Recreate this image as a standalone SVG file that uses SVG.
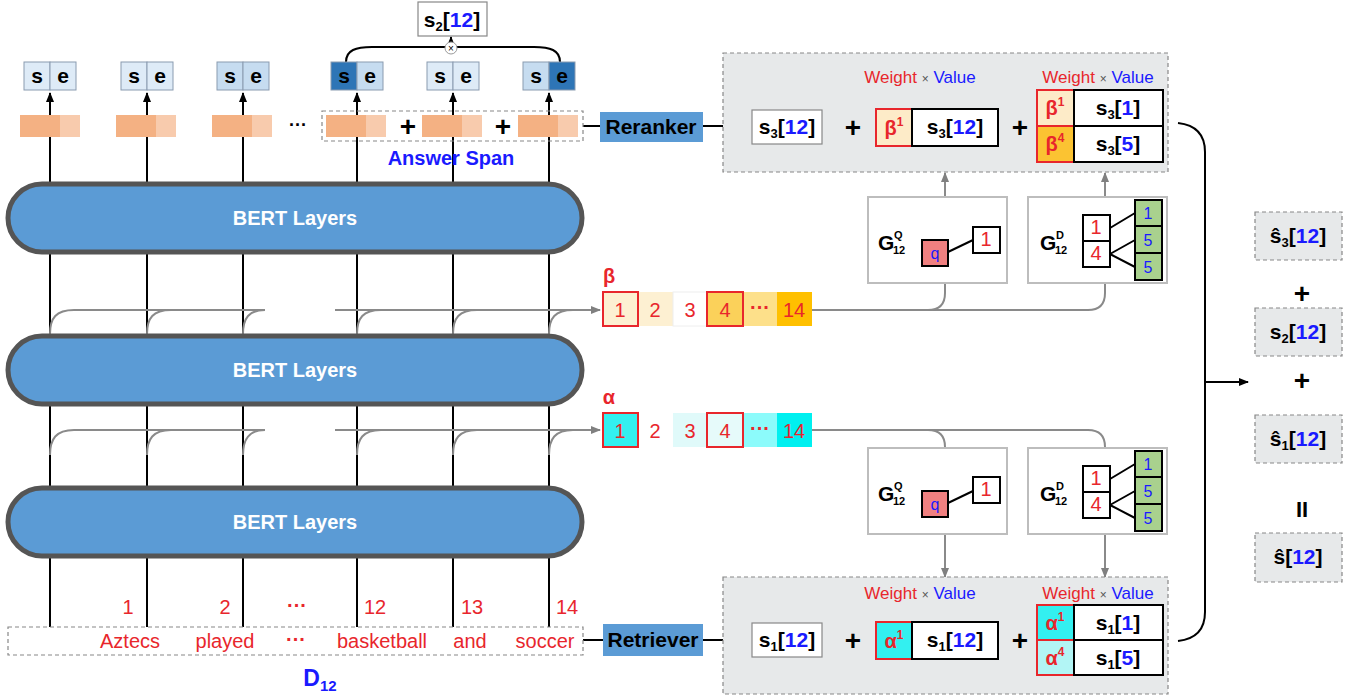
<svg xmlns="http://www.w3.org/2000/svg" width="1364" height="700" viewBox="0 0 1364 700">
<defs>
<marker id="ab" markerWidth="10" markerHeight="10" refX="9" refY="5" orient="auto" markerUnits="userSpaceOnUse"><path d="M0,1 L10,5 L0,9 z" fill="#000"/></marker>
<marker id="ag" markerWidth="10" markerHeight="10" refX="9" refY="5" orient="auto" markerUnits="userSpaceOnUse"><path d="M0,1 L10,5 L0,9 z" fill="#808080"/></marker>
</defs>
<style>
text{font-family:"Liberation Sans",Arial,sans-serif}
.k{stroke:#000;stroke-width:2;fill:none}
.g{stroke:#8a8a8a;stroke-width:2;fill:none}
.bert{fill:#5b9bd5;stroke:#555;stroke-width:5}
.bt{fill:#fff;font-size:20px;font-weight:bold;text-anchor:middle}
.se{stroke:#8a9bb0;stroke-width:1}
.set{font-size:21px;font-weight:bold;text-anchor:middle}
.o1{fill:#f4b183}
.o2{fill:#f8cbad}
.dash{fill:none;stroke:#888;stroke-width:1.2;stroke-dasharray:4 3}
.gbox{fill:#e7e9ea;stroke:#888;stroke-width:1.2;stroke-dasharray:4 3}
.wb{fill:#fff;stroke:#000;stroke-width:2}
.wb1{fill:#fff;stroke:#888;stroke-width:1.2}
.st{font-size:21px;font-weight:bold;text-anchor:middle}
.blue{fill:#1a1aff}
.red{fill:#e8262c}
.num{font-size:20px;text-anchor:middle;fill:#e8262c}
.wv{font-size:17px;text-anchor:middle}
.pl{font-size:28px;font-weight:bold;text-anchor:middle}
.gb{fill:#fff;stroke:#bdbdbd;stroke-width:2}
.rb{stroke:#e8262c;stroke-width:2}
.blk{fill:none;stroke:#000;stroke-width:2}
.gr{fill:#a9d18e;stroke:#000;stroke-width:2}
.lbl{font-size:21px;font-weight:bold;text-anchor:middle;fill:#000}
</style>

<g id="connectors">
<path class="k" d="M50,627 V93" marker-end="url(#ab)"/>
<path class="k" d="M147,627 V93" marker-end="url(#ab)"/>
<path class="k" d="M243,627 V93" marker-end="url(#ab)"/>
<path class="k" d="M357,627 V93" marker-end="url(#ab)"/>
<path class="k" d="M453,627 V93" marker-end="url(#ab)"/>
<path class="k" d="M549,627 V93" marker-end="url(#ab)"/>
<path class="g" d="M50,334 C50,318 56,310 74,310 H265"/>
<path class="g" d="M147,334 C147,318 153,310 171,310"/>
<path class="g" d="M243,334 C243,318 249,310 265,310"/>
<path class="g" d="M335,310 H600" marker-end="url(#ag)"/>
<path class="g" d="M357,334 C357,318 363,310 381,310"/>
<path class="g" d="M453,334 C453,318 459,310 477,310"/>
<path class="g" d="M549,334 C549,318 555,310 573,310"/>
<path class="g" d="M50,455 C50,439 56,430 74,430 H265"/>
<path class="g" d="M147,455 C147,439 153,430 171,430"/>
<path class="g" d="M243,455 C243,439 249,430 265,430"/>
<path class="g" d="M335,430 H600" marker-end="url(#ag)"/>
<path class="g" d="M357,455 C357,439 363,430 381,430"/>
<path class="g" d="M453,455 C453,439 459,430 477,430"/>
<path class="g" d="M549,455 C549,439 555,430 573,430"/>
<path class="g" d="M812,310 H1088 Q1105,310 1105,293 V284"/>
<path class="g" d="M928,310 Q945,310 945,293 V284"/>
<path class="g" d="M945,197 V173" marker-end="url(#ag)"/>
<path class="g" d="M1105,197 V173" marker-end="url(#ag)"/>
<path class="g" d="M812,430 H1088 Q1105,430 1105,447 V449"/>
<path class="g" d="M928,430 Q945,430 945,447 V449"/>
<path class="g" d="M945,534 V577" marker-end="url(#ag)"/>
<path class="g" d="M1105,534 V577" marker-end="url(#ag)"/>
<path class="k" d="M583,126 H600"/>
<path class="k" d="M703,126 H751" marker-end="url(#ab)"/>
<path class="k" d="M583,640 H603"/>
<path class="k" d="M703,640 H751" marker-end="url(#ab)"/>
<path class="k" d="M346,62 C346,50 356,47 372,47 H534 C550,47 560,50 560,62"/>
<path class="k" d="M451,42 V37" marker-end="url(#ab)"/>
<path class="k" d="M1178,123 Q1205,126 1205,152 V612 Q1205,638 1178,641"/>
<path class="k" d="M1205,382 H1248" marker-end="url(#ab)"/>
</g>

<g id="bert1"><rect class="bert" x="8" y="184" width="574" height="68" rx="34"/><text class="bt" x="295" y="225">BERT Layers</text></g>
<g id="bert2"><rect class="bert" x="8" y="336" width="574" height="68" rx="34"/><text class="bt" x="295" y="377">BERT Layers</text></g>
<g id="bert3"><rect class="bert" x="8" y="488" width="574" height="68" rx="34"/><text class="bt" x="295" y="529">BERT Layers</text></g>

<g id="se-boxes">
<rect class="se" x="24" y="62" width="26" height="28" fill="#deebf7"/><rect class="se" x="50" y="62" width="26" height="28" fill="#deebf7"/>
<text class="set" x="37" y="83">s</text><text class="set" x="63" y="83">e</text>
<rect class="se" x="121" y="62" width="26" height="28" fill="#deebf7"/><rect class="se" x="147" y="62" width="26" height="28" fill="#deebf7"/>
<text class="set" x="134" y="83">s</text><text class="set" x="160" y="83">e</text>
<rect class="se" x="217" y="62" width="26" height="28" fill="#c6dcf0"/><rect class="se" x="243" y="62" width="26" height="28" fill="#c6dcf0"/>
<text class="set" x="230" y="83">s</text><text class="set" x="256" y="83">e</text>
<rect class="se" x="331" y="62" width="26" height="28" fill="#2e75b6"/><rect class="se" x="357" y="62" width="26" height="28" fill="#c6dcf0"/>
<text class="set" x="344" y="83">s</text><text class="set" x="370" y="83">e</text>
<rect class="se" x="427" y="62" width="26" height="28" fill="#deebf7"/><rect class="se" x="453" y="62" width="26" height="28" fill="#deebf7"/>
<text class="set" x="440" y="83">s</text><text class="set" x="466" y="83">e</text>
<rect class="se" x="523" y="62" width="26" height="28" fill="#c6dcf0"/><rect class="se" x="549" y="62" width="26" height="28" fill="#2e75b6"/>
<text class="set" x="536" y="83">s</text><text class="set" x="562" y="83">e</text>
</g>

<g id="s2-top">
<rect class="wb1" x="418" y="2" width="69" height="34"/>
<text class="st" x="452" y="27">s<tspan font-size="13" dy="4">2</tspan><tspan dy="-4">[</tspan><tspan class="blue">12</tspan>]</text>
<circle cx="451" cy="48" r="6" fill="#fff" stroke="#999" stroke-width="1"/>
<text x="451" y="52" font-size="10" text-anchor="middle">×</text>
</g>

<g id="token-vectors">
<rect class="o1" x="20" y="115" width="20" height="22"/><rect class="o1" x="40" y="115" width="20" height="22"/><rect class="o2" x="60" y="115" width="20" height="22"/>
<rect class="o1" x="116" y="115" width="20" height="22"/><rect class="o1" x="136" y="115" width="20" height="22"/><rect class="o2" x="156" y="115" width="20" height="22"/>
<rect class="o1" x="212" y="115" width="20" height="22"/><rect class="o1" x="232" y="115" width="20" height="22"/><rect class="o2" x="252" y="115" width="20" height="22"/>
<text x="298" y="131" font-size="18" text-anchor="middle" font-weight="bold">···</text>
<rect class="o1" x="326" y="115" width="20" height="22"/><rect class="o1" x="346" y="115" width="20" height="22"/><rect class="o2" x="366" y="115" width="20" height="22"/>
<rect class="o1" x="422" y="115" width="20" height="22"/><rect class="o1" x="442" y="115" width="20" height="22"/><rect class="o2" x="462" y="115" width="20" height="22"/>
<rect class="o1" x="518" y="115" width="20" height="22"/><rect class="o1" x="538" y="115" width="20" height="22"/><rect class="o2" x="558" y="115" width="20" height="22"/>
<text class="pl" x="408" y="136">+</text><text class="pl" x="503" y="136">+</text>
<rect class="dash" x="322" y="111" width="261" height="30"/>
<text x="451" y="165" font-size="20" font-weight="bold" text-anchor="middle" fill="#1a1aff">Answer Span</text>
</g>

<g id="reranker"><rect x="600" y="112" width="103" height="30" fill="#5b9bd5"/><text class="lbl" x="651" y="134">Reranker</text></g>
<g id="retriever"><rect x="603" y="624" width="100" height="32" fill="#5b9bd5"/><text class="lbl" x="653" y="647">Retriever</text></g>

<g id="reranker-score">
<rect class="gbox" x="723" y="53" width="445" height="119"/>
<text class="wv" x="920" y="83"><tspan class="red">Weight</tspan> <tspan font-size="12" fill="#555">×</tspan> <tspan class="blue">Value</tspan></text>
<text class="wv" x="1098" y="83"><tspan class="red">Weight</tspan> <tspan font-size="12" fill="#555">×</tspan> <tspan class="blue">Value</tspan></text>
<rect class="wb1" x="752" y="110" width="70" height="34"/>
<text class="st" x="787" y="134">s<tspan font-size="13" dy="4">3</tspan><tspan dy="-4">[</tspan><tspan class="blue">12</tspan>]</text>
<text class="pl" x="853" y="137">+</text>
<rect x="876" y="109" width="36" height="37" fill="#fdebc8" class="rb"/>
<text x="894" y="135" font-size="20" font-weight="bold" text-anchor="middle" class="red">β<tspan font-size="12" dy="-9">1</tspan></text>
<rect class="wb" x="912" y="109" width="86" height="37"/>
<text class="st" x="955" y="134">s<tspan font-size="13" dy="4">3</tspan><tspan dy="-4">[</tspan><tspan class="blue">12</tspan>]</text>
<text class="pl" x="1020" y="137">+</text>
<rect x="1037" y="90" width="37" height="36" fill="#fdebc8" class="rb"/>
<rect x="1037" y="126" width="37" height="36" fill="#fbc332" class="rb"/>
<text x="1055" y="115" font-size="20" font-weight="bold" text-anchor="middle" class="red">β<tspan font-size="12" dy="-9">1</tspan></text>
<text x="1055" y="151" font-size="20" font-weight="bold" text-anchor="middle" class="red">β<tspan font-size="12" dy="-9">4</tspan></text>
<rect class="wb" x="1074" y="90" width="89" height="36"/>
<rect class="wb" x="1074" y="126" width="89" height="36"/>
<text class="st" x="1118" y="115">s<tspan font-size="13" dy="4">3</tspan><tspan dy="-4">[</tspan><tspan class="blue">1</tspan>]</text>
<text class="st" x="1118" y="151">s<tspan font-size="13" dy="4">3</tspan><tspan dy="-4">[</tspan><tspan class="blue">5</tspan>]</text>
</g>

<g id="retriever-score">
<rect class="gbox" x="723" y="577" width="445" height="117"/>
<text class="wv" x="920" y="599"><tspan class="red">Weight</tspan> <tspan font-size="12" fill="#555">×</tspan> <tspan class="blue">Value</tspan></text>
<text class="wv" x="1098" y="599"><tspan class="red">Weight</tspan> <tspan font-size="12" fill="#555">×</tspan> <tspan class="blue">Value</tspan></text>
<rect class="wb1" x="752" y="623" width="70" height="34"/>
<text class="st" x="787" y="647">s<tspan font-size="13" dy="4">1</tspan><tspan dy="-4">[</tspan><tspan class="blue">12</tspan>]</text>
<text class="pl" x="853" y="650">+</text>
<rect x="876" y="622" width="36" height="37" fill="#33f0f0" class="rb"/>
<text x="894" y="648" font-size="20" font-weight="bold" text-anchor="middle" class="red">α<tspan font-size="12" dy="-9">1</tspan></text>
<rect class="wb" x="912" y="622" width="86" height="37"/>
<text class="st" x="955" y="647">s<tspan font-size="13" dy="4">1</tspan><tspan dy="-4">[</tspan><tspan class="blue">12</tspan>]</text>
<text class="pl" x="1020" y="650">+</text>
<rect x="1037" y="605" width="37" height="35" fill="#33f0f0" class="rb"/>
<rect x="1037" y="640" width="37" height="35" fill="#b2f5f5" class="rb"/>
<text x="1055" y="630" font-size="20" font-weight="bold" text-anchor="middle" class="red">α<tspan font-size="12" dy="-9">1</tspan></text>
<text x="1055" y="665" font-size="20" font-weight="bold" text-anchor="middle" class="red">α<tspan font-size="12" dy="-9">4</tspan></text>
<rect class="wb" x="1074" y="605" width="89" height="35"/>
<rect class="wb" x="1074" y="640" width="89" height="35"/>
<text class="st" x="1118" y="630">s<tspan font-size="13" dy="4">1</tspan><tspan dy="-4">[</tspan><tspan class="blue">1</tspan>]</text>
<text class="st" x="1118" y="665">s<tspan font-size="13" dy="4">1</tspan><tspan dy="-4">[</tspan><tspan class="blue">5</tspan>]</text>
</g>

<g id="beta-row">
<text x="609" y="283" font-size="20" font-weight="bold" class="red" text-anchor="middle">β</text>
<rect x="603" y="292" width="35" height="34" fill="#fdf0d2"/>
<rect x="638" y="292" width="35" height="34" fill="#fdf0d2"/>
<rect x="673" y="292" width="34" height="34" fill="#fff" stroke="#eee"/>
<rect x="707" y="292" width="36" height="34" fill="#fbd15a"/>
<rect x="743" y="292" width="34" height="34" fill="#fde08a"/>
<rect x="777" y="292" width="35" height="34" fill="#ffc000"/>
<rect x="603" y="292" width="35" height="34" fill="none" class="rb"/>
<rect x="707" y="292" width="36" height="34" fill="none" class="rb"/>
<text class="num" x="620" y="317">1</text><text class="num" x="655" y="317">2</text><text class="num" x="690" y="317">3</text><text class="num" x="725" y="317">4</text><text class="num" x="760" y="314" font-weight="bold">···</text><text class="num" x="794" y="317">14</text>
</g>

<g id="alpha-row">
<text x="609" y="404" font-size="20" font-weight="bold" class="red" text-anchor="middle">α</text>
<rect x="603" y="413" width="35" height="34" fill="#33f0f0"/>
<rect x="638" y="413" width="35" height="34" fill="#fff"/>
<rect x="673" y="413" width="34" height="34" fill="#e0fafa"/>
<rect x="707" y="413" width="36" height="34" fill="#e6fafa"/>
<rect x="743" y="413" width="34" height="34" fill="#8cfbfb"/>
<rect x="777" y="413" width="35" height="34" fill="#00f0f0"/>
<rect x="603" y="413" width="35" height="34" fill="none" class="rb"/>
<rect x="707" y="413" width="36" height="34" fill="none" class="rb"/>
<text class="num" x="620" y="438">1</text><text class="num" x="655" y="438">2</text><text class="num" x="690" y="438">3</text><text class="num" x="725" y="438">4</text><text class="num" x="760" y="435" font-weight="bold">···</text><text class="num" x="794" y="438">14</text>
</g>

<g id="gq-top">
<rect class="gb" x="868" y="197" width="139" height="86"/>
<text x="878" y="250" font-size="21" font-weight="bold">G</text><text x="894" y="239" font-size="11" font-weight="bold">Q</text><text x="893" y="254" font-size="11" font-weight="bold">12</text>
<path class="blk" d="M948,252 L973,240"/>
<rect x="922" y="240" width="26" height="26" fill="#f08080" stroke="#000" stroke-width="2"/>
<text x="935" y="259" font-size="16" text-anchor="middle" class="blue">q</text>
<rect class="wb" x="973" y="227" width="27" height="26"/>
<text class="num" x="986" y="246" font-size="16">1</text>
</g>

<g id="gd-top">
<rect class="gb" x="1028" y="197" width="139" height="86"/>
<text x="1040" y="250" font-size="21" font-weight="bold">G</text><text x="1056" y="239" font-size="11" font-weight="bold">D</text><text x="1055" y="254" font-size="11" font-weight="bold">12</text>
<path class="blk" d="M1110,228 L1135,213 M1110,254 L1135,240 M1110,254 L1135,267"/>
<rect class="wb" x="1083" y="215" width="27" height="26"/><rect class="wb" x="1083" y="241" width="27" height="26"/>
<text class="num" x="1096" y="234" font-size="16">1</text><text class="num" x="1096" y="260" font-size="16">4</text>
<rect class="gr" x="1135" y="200" width="27" height="26"/><rect class="gr" x="1135" y="226" width="27" height="27"/><rect class="gr" x="1135" y="253" width="27" height="27"/>
<text x="1148" y="219" font-size="16" text-anchor="middle" class="blue">1</text><text x="1148" y="246" font-size="16" text-anchor="middle" class="blue">5</text><text x="1148" y="273" font-size="16" text-anchor="middle" class="blue">5</text>
</g>

<g id="gq-bottom">
<rect class="gb" x="868" y="448" width="139" height="86"/>
<text x="878" y="501" font-size="21" font-weight="bold">G</text><text x="894" y="490" font-size="11" font-weight="bold">Q</text><text x="893" y="505" font-size="11" font-weight="bold">12</text>
<path class="blk" d="M948,503 L973,491"/>
<rect x="922" y="491" width="26" height="26" fill="#f08080" stroke="#000" stroke-width="2"/>
<text x="935" y="510" font-size="16" text-anchor="middle" class="blue">q</text>
<rect class="wb" x="973" y="477" width="27" height="26"/>
<text class="num" x="986" y="496" font-size="16">1</text>
</g>

<g id="gd-bottom">
<rect class="gb" x="1028" y="448" width="139" height="86"/>
<text x="1040" y="501" font-size="21" font-weight="bold">G</text><text x="1056" y="490" font-size="11" font-weight="bold">D</text><text x="1055" y="505" font-size="11" font-weight="bold">12</text>
<path class="blk" d="M1110,479 L1135,464 M1110,505 L1135,491 M1110,505 L1135,518"/>
<rect class="wb" x="1083" y="466" width="27" height="26"/><rect class="wb" x="1083" y="492" width="27" height="26"/>
<text class="num" x="1096" y="485" font-size="16">1</text><text class="num" x="1096" y="511" font-size="16">4</text>
<rect class="gr" x="1135" y="451" width="27" height="26"/><rect class="gr" x="1135" y="477" width="27" height="27"/><rect class="gr" x="1135" y="504" width="27" height="27"/>
<text x="1148" y="470" font-size="16" text-anchor="middle" class="blue">1</text><text x="1148" y="497" font-size="16" text-anchor="middle" class="blue">5</text><text x="1148" y="524" font-size="16" text-anchor="middle" class="blue">5</text>
</g>

<g id="document">
<rect class="dash" x="8" y="627" width="575" height="28"/>
<text class="num" x="128" y="614">1</text><text class="num" x="225" y="614">2</text><text class="num" x="297" y="612" font-weight="bold">···</text><text class="num" x="375" y="614">12</text><text class="num" x="472" y="614">13</text><text class="num" x="567" y="614">14</text>
<text class="num" x="130" y="648">Aztecs</text><text class="num" x="225" y="648">played</text><text class="num" x="296" y="646" font-weight="bold">···</text><text class="num" x="382" y="648">basketball</text><text class="num" x="470" y="648">and</text><text class="num" x="545" y="648">soccer</text>
<text x="320" y="686" font-size="23" font-weight="bold" fill="#1a1aff" text-anchor="middle">D<tspan font-size="15" dy="5">12</tspan></text>
</g>

<g id="final-sum">
<rect class="gbox" x="1255" y="212" width="87" height="48"/>
<text class="st" x="1298" y="243">ŝ<tspan font-size="13" dy="4">3</tspan><tspan dy="-4">[</tspan><tspan class="blue">12</tspan>]</text>
<text class="pl" x="1302" y="303">+</text>
<rect class="gbox" x="1255" y="308" width="87" height="48"/>
<text class="st" x="1298" y="339">s<tspan font-size="13" dy="4">2</tspan><tspan dy="-4">[</tspan><tspan class="blue">12</tspan>]</text>
<text class="pl" x="1302" y="390">+</text>
<rect class="gbox" x="1255" y="415" width="87" height="48"/>
<text class="st" x="1298" y="446">ŝ<tspan font-size="13" dy="4">1</tspan><tspan dy="-4">[</tspan><tspan class="blue">12</tspan>]</text>
<text x="1302" y="517" font-size="22" font-weight="bold" text-anchor="middle">II</text>
<rect class="gbox" x="1255" y="533" width="87" height="49"/>
<text class="st" x="1298" y="564">ŝ[<tspan class="blue">12</tspan>]</text>
</g>
</svg>
